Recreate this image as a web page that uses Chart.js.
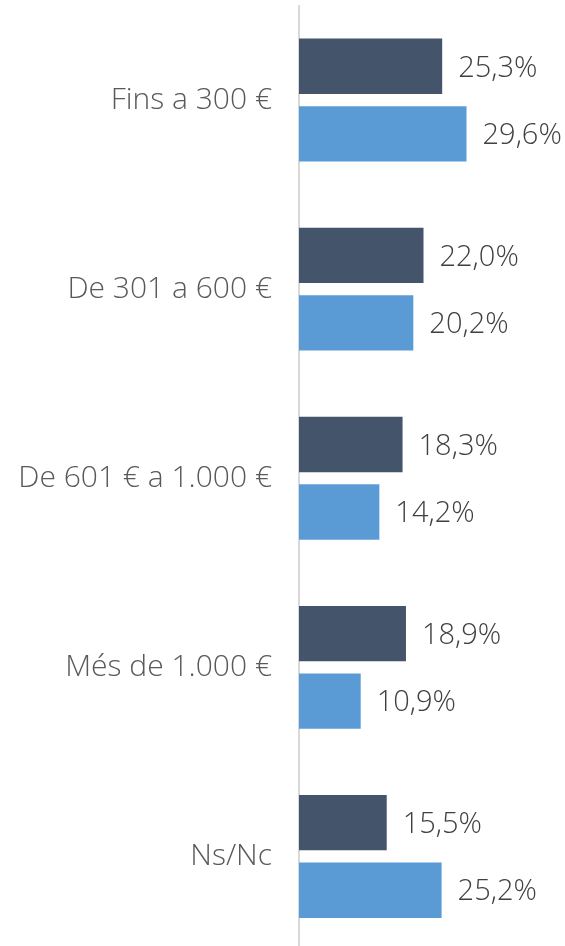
<!DOCTYPE html>
<html>
<head>
<meta charset="utf-8">
<script src="https://cdn.jsdelivr.net/npm/chart.js@4"></script>
<style>
    html, body { margin: 0; padding: 0; background: #fff; overflow: hidden; }
    #wrap { width: 565px; height: 951px; position: relative; }
</style>
</head>
<body>
<div id="wrap"><canvas id="incomeChart"></canvas></div>
<script>
const categories = ["Fins a 300 €", "De 301 a 600 €", "De 601 € a 1.000 €", "Més de 1.000 €", "Ns/Nc"];
const seriesA = [25.3, 22.0, 18.3, 18.9, 15.5];
const seriesB = [29.6, 20.2, 14.2, 10.9, 25.2];

const FONT = "'Open Sans', 'DejaVu Sans', sans-serif";

// Draws the value next to the end of each bar, e.g. "25,3%"
const valueLabels = {
    id: 'valueLabels',
    afterDatasetsDraw(chart) {
        const ctx = chart.ctx;
        ctx.save();
        ctx.font = "300 29px " + FONT;
        ctx.fillStyle = '#404040';
        ctx.textAlign = 'left';
        ctx.textBaseline = 'middle';
        chart.data.datasets.forEach((ds, i) => {
            chart.getDatasetMeta(i).data.forEach((bar, j) => {
                const txt = ds.data[j].toFixed(1).replace('.', ',') + '%';
                ctx.fillText(txt, bar.x + 16, bar.y + 2);
            });
        });
        ctx.restore();
    }
};

new Chart(document.getElementById('incomeChart'), {
    type: 'bar',
    data: {
        labels: categories,
        datasets: [{
            data: seriesA,
            backgroundColor: '#44546A',
            categoryPercentage: 0.714,
            barPercentage: 0.82
        }, {
            data: seriesB,
            backgroundColor: '#5B9BD5',
            categoryPercentage: 0.714,
            barPercentage: 0.82
        }]
    },
    options: {
        indexAxis: 'y',
        responsive: true,
        maintainAspectRatio: false,
        animation: false,
        layout: { padding: { top: 5.5, right: 0, bottom: 0, left: 0 } },
        plugins: {
            legend: { display: false },
            tooltip: { enabled: false }
        },
        scales: {
            x: {
                display: false,
                min: 0,
                max: 47
            },
            y: {
                afterFit(scale) {
                    scale.width = 299;
                    scale.paddingTop = 0;
                    scale.paddingBottom = 0;
                },
                grid: { display: false, drawTicks: false },
                border: { display: true, color: '#D9D9D9', width: 2 },
                ticks: {
                    color: '#595959',
                    padding: 27,
                    font: { family: FONT, size: 30, weight: 300 }
                }
            }
        }
    },
    plugins: [valueLabels]
});
</script>
</body>
</html>
